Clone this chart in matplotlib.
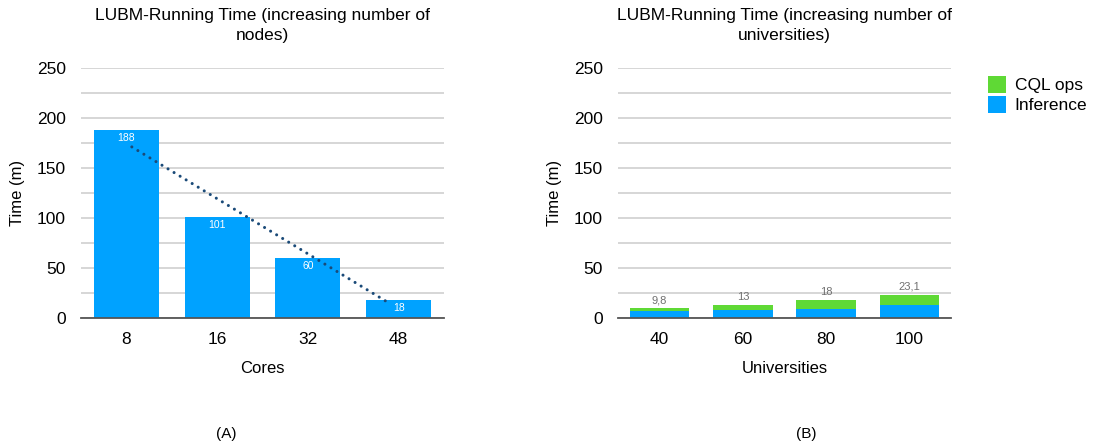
import numpy as np
import matplotlib
matplotlib.use("Agg")
import matplotlib.pyplot as plt

plt.rcParams['font.family'] = ['Liberation Sans', 'DejaVu Sans']

# ---- data ----
cores = ["8", "16", "32", "48"]
core_time = [188, 101, 60, 18]

universities = ["40", "60", "80", "100"]
inference = [7.0, 8.3, 9.0, 13.0]
cql_ops = [2.8, 4.7, 9.0, 10.1]
totals_lbl = ["9,8", "13", "18", "23,1"]

BLUE = "#00a2ff"
GREEN = "#5fd935"
GRID = "#d0d0d0"

fig = plt.figure(figsize=(11.2, 4.45), dpi=100)
axA = fig.add_axes([81 / 1120, 1 - 318 / 445, 363 / 1120, 250 / 445])
axB = fig.add_axes([618 / 1120, 1 - 318 / 445, 333 / 1120, 250 / 445])


def style(ax, title, xlabel, cats):
    ax.set_ylim(0, 250)
    ax.set_xlim(-0.5, len(cats) - 0.5)
    ax.set_yticks(range(0, 251, 50))
    ax.set_yticks(range(0, 251, 25), minor=True)
    ax.grid(axis="y", which="both", color=GRID, linewidth=1.2, zorder=0)
    ax.set_axisbelow(True)
    for s in ["top", "right", "left"]:
        ax.spines[s].set_visible(False)
    ax.spines["bottom"].set_color("#555555")
    ax.spines["bottom"].set_linewidth(1.3)
    ax.tick_params(axis="both", which="both", length=0, labelsize=12.5, pad=11)
    ax.tick_params(axis="x", pad=10)
    ax.set_xticks(range(len(cats)))
    ax.set_xticklabels(cats)
    ax.set_title(title, fontsize=12.5, pad=20, linespacing=1.45)
    ax.set_xlabel(xlabel, fontsize=12, labelpad=10)
    ax.set_ylabel("Time (m)", fontsize=12, labelpad=8)


# ---- (A) ----
x = np.arange(len(cores))
axA.bar(x, core_time, width=0.716, color=BLUE, zorder=2)
for xi, v in zip(x, core_time):
    axA.text(xi, v - 3, str(v), color="white", fontsize=7.5,
             ha="center", va="top", zorder=4)
k, b = np.polyfit(x, core_time, 1)
xt = np.linspace(0.06, 2.88, 50)
axA.plot(xt, k * xt + b, linestyle=(0, (0.01, 2.3)), color="#1a4a78",
         linewidth=2.2, dash_capstyle="round", zorder=3)
style(axA, "LUBM-Running Time (increasing number of\nnodes)", "Cores", cores)

# ---- (B) ----
x = np.arange(len(universities))
axB.bar(x, inference, width=0.716, color=BLUE, zorder=2, label="Inference")
axB.bar(x, cql_ops, width=0.716, bottom=inference, color=GREEN, zorder=2,
        label="CQL ops")
for xi, i, c, lbl in zip(x, inference, cql_ops, totals_lbl):
    axB.text(xi, i + c + 3, lbl, color="#707070", fontsize=8,
             ha="center", va="bottom", zorder=4)
style(axB, "LUBM-Running Time (increasing number of\nuniversities)", "Universities",
      universities)
h, l = axB.get_legend_handles_labels()
fig.legend(h[::-1], l[::-1], loc="upper left", bbox_to_anchor=(979 / 1120, 1 - 67 / 445),
           frameon=False, fontsize=12.5, handlelength=1.05, handleheight=1.2,
           handletextpad=0.5, labelspacing=0.12, borderpad=0)

fig.text(226 / 1120, 1 - 434 / 445, "(A)", ha="center", va="center", fontsize=11)
fig.text(806 / 1120, 1 - 434 / 445, "(B)", ha="center", va="center", fontsize=11)

fig.savefig("out.png", dpi=100)
